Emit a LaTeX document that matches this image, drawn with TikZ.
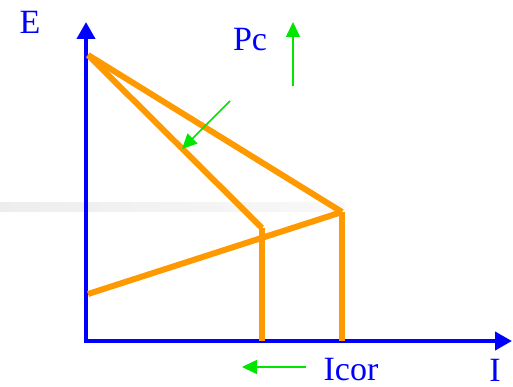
\documentclass[tikz,border=0pt]{standalone}
\usepackage{fontspec}
\setmainfont{Liberation Serif}
\usetikzlibrary{arrows.meta}
\definecolor{axblue}{RGB}{0,0,255}
\definecolor{curve}{RGB}{255,153,0}
\definecolor{arrgreen}{RGB}{0,230,0}
\begin{document}
\begin{tikzpicture}[x=1pt,y=-1pt,
  axis/.style={axblue,line width=4pt,-{Triangle[width=18pt,length=17pt]}},
  orange line/.style={curve,line width=6pt},
  garrow/.style={arrgreen,line width=1.6pt,-{Triangle[width=14pt,length=15pt]}},
  lbl/.style={text=axblue,font=\fontsize{34}{36}\selectfont,inner sep=0pt}]
\useasboundingbox (0,0) rectangle (513,387);
% faded band
\shade[left color=gray!14,right color=gray!5] (0,203) rectangle (345,211);
% axes
\coordinate (O) at (86,341);
\coordinate (Etop) at (86,22);
\coordinate (Iend) at (512,341);
\draw[axis] (O) -- (Etop);
\draw[axis] ([xshift=-2pt]O) -- (Iend);
% orange lines
\coordinate (A) at (88,55);
\coordinate (B) at (262,228);
\coordinate (C) at (342,212);
\coordinate (D) at (88,294);
\coordinate (Bb) at (262,341);
\coordinate (Cb) at (342,341);
\draw[orange line] (A) -- (B);
\draw[orange line] (B) -- (Bb);
\draw[orange line] (A) -- (C);
\draw[orange line] (C) -- (Cb);
\draw[orange line] (D) -- (C);
% labels
\node[lbl] (E) at (30,22) {E};
\node[lbl] (Pc) at (250,40) {Pc};
\node[lbl] (Icor) at (351,370) {Icor};
\node[lbl] (I) at (495,370) {I};
% green arrows
\coordinate (g1s) at (293,86);
\coordinate (g1e) at (293,22);
\draw[garrow] (g1s) -- (g1e);
\coordinate (g2s) at (230,101);
\coordinate (g2e) at (182,149);
\draw[garrow] (g2s) -- (g2e);
\coordinate (g3s) at (306,367);
\coordinate (g3e) at (242,367);
\draw[garrow] (g3s) -- (g3e);
\end{tikzpicture}
\end{document}
